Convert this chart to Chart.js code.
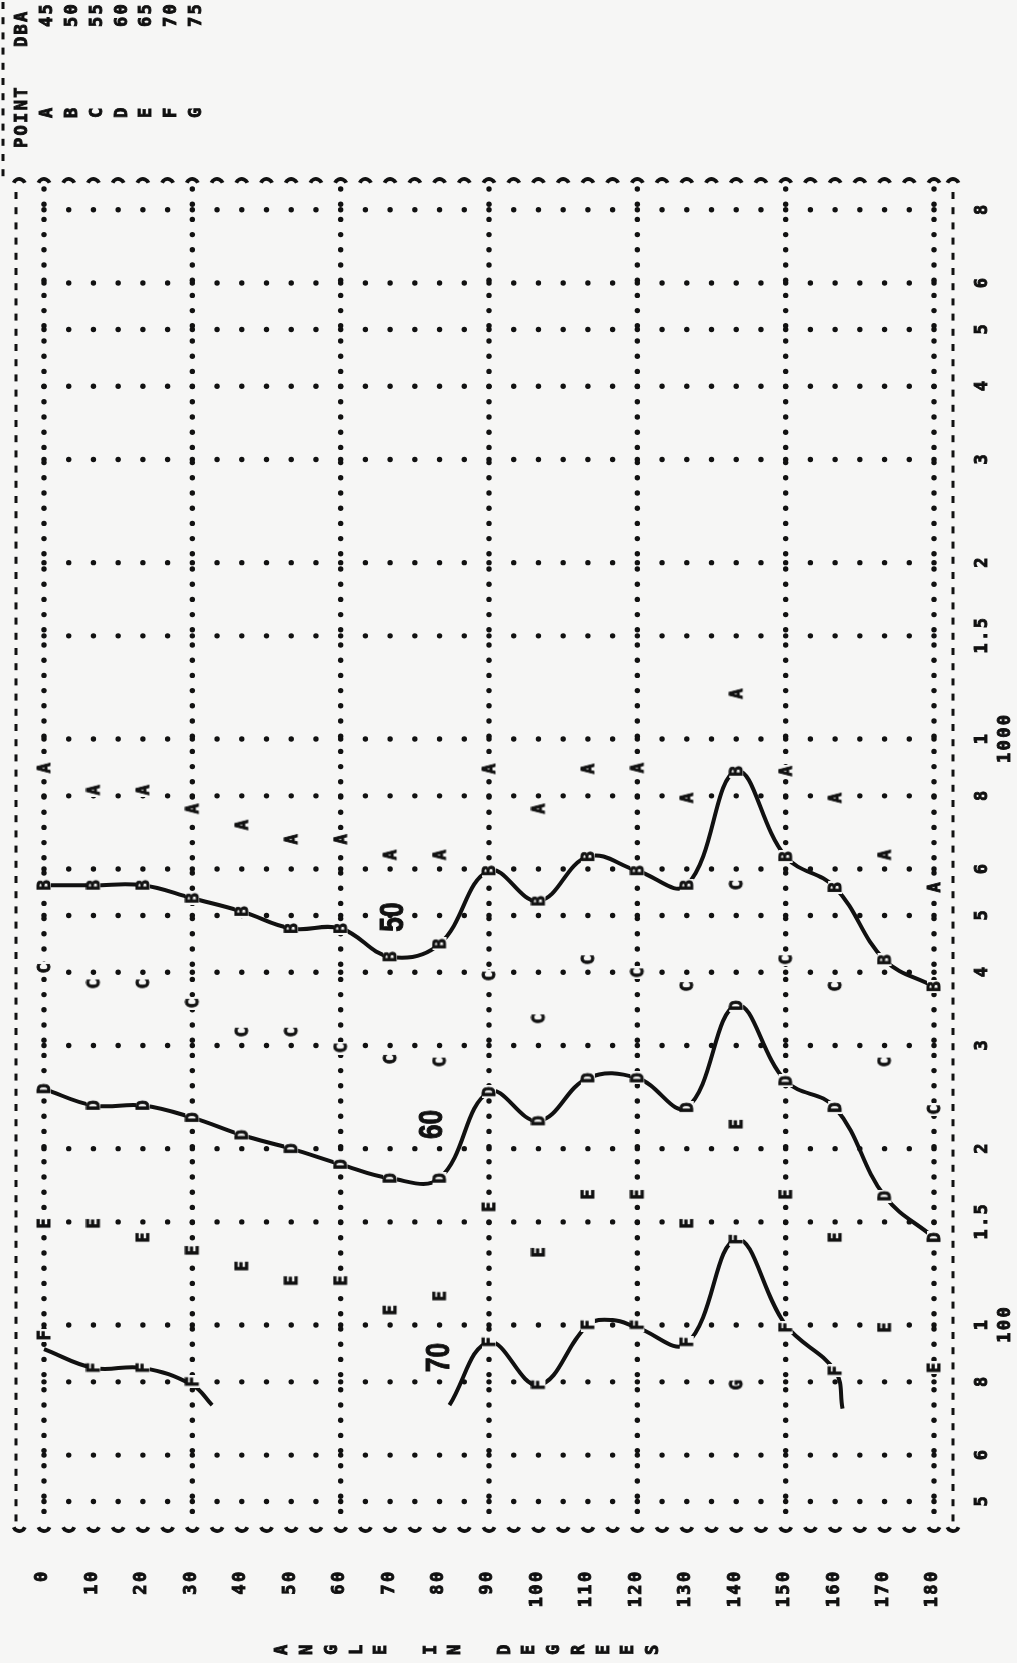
<!DOCTYPE html>
<html>
<head>
<meta charset="utf-8">
<title>Angle in degrees</title>
<script src="https://cdn.jsdelivr.net/npm/chart.js@4.4.1/dist/chart.umd.min.js"></script>
<style>
  html, body { margin: 0; padding: 0; background: #f6f6f5; }
  #wrap { width: 1017px; height: 1663px; }
</style>
</head>
<body>
<div id="wrap"><canvas id="chart" width="1017" height="1663"></canvas></div>
<script>
const PAPER = '#f6f6f5';
const INK = '#111111';

// angle columns (x) and the distance read for each point letter (y, log)
const angles = [0, 10, 20, 30, 40, 50, 60, 70, 80, 90, 100, 110, 120, 130, 140, 150, 160, 170, 180];
const pointA = [892, 818, 818, 760, 713, 674, 674, 634, 634, 889, 760, 889, 892, 793, 1194, 881, 793, 634, 558];
const pointB = [563, 563, 563, 535, 508, 475, 475, 425, 447, 596, 529, 630, 596, 563, 881, 630, 558, 420, 378];
const pointC = [406, 382, 382, 354, 316, 316, 297, 284, 281, 394, 333, 420, 399, 378, 563, 420, 378, 281, 233];
const pointD = [253, 237, 237, 226, 211, 200, 188, 178, 178, 250, 223, 264, 264, 235, 351, 261, 235, 166, 141];
const pointE = [149, 149, 141, 134, 126, 119, 119, 106, 112, 159, 133, 167, 167, 149, 220, 167, 141, 99, 84.5];
const pointF = [96, 84.5, 84.5, 80, null, null, null, null, null, 93.5, 79, 100, 100, 93.5, 140, 99, 83.5, null, null];
const pointG = [null, null, null, null, null, null, null, null, null, null, null, null, null, null, 79, null, null, null, null];

// hand drawn contours
const contour50Angles = [0, 10, 20, 30, 40, 50, 60, 70, 80, 90, 100, 110, 120, 130, 140, 150, 160, 170, 180];
const contour50 = [563, 563, 563, 535, 508, 475, 475, 425, 447, 596, 529, 630, 596, 563, 881, 630, 558, 420, 378];
const contour60Angles = [0, 10, 20, 30, 40, 50, 60, 70, 80, 90, 100, 110, 120, 130, 140, 150, 160, 170, 180];
const contour60 = [253, 237, 237, 226, 211, 200, 188, 178, 178, 250, 223, 264, 264, 235, 351, 261, 235, 166, 141];
const contour70aAngles = [0, 10, 20, 30, 34];
const contour70a = [91, 84.5, 84.5, 79, 73];
const contour70bAngles = [82, 90, 100, 110, 115, 120, 130, 140, 150, 160, 161.5];
const contour70b = [73, 93.5, 79, 100, 102, 99, 93, 140, 100, 83.5, 72];

const contourLabels = ['50', '60', '70'];
const contourLabelAngles = [70.4, 78.3, 79.7];
const contourLabelValues = [497, 220, 88];

// axes
const distTicks = [50, 60, 80, 100, 150, 200, 300, 400, 500, 600, 800, 1000, 1500, 2000, 3000, 4000, 5000, 6000, 8000];
const distLabels = ['5', '6', '8', ['1', '100'], '1.5', '2', '3', '4', '5', '6', '8', ['1', '1000'], '1.5', '2', '3', '4', '5', '6', '8'];
const angleLabels = ['0', '10', '20', '30', '40', '50', '60', '70', '80', '90', '100', '110', '120', '130', '140', '150', '160', '170', '180'];
const majorAngles = [0, 30, 60, 90, 120, 150, 180];
const axisTitle = 'ANGLE IN DEGREES';

// legend table
const legendPoints = ['A', 'B', 'C', 'D', 'E', 'F', 'G'];
const legendDba = ['45', '50', '55', '60', '65', '70', '75'];

const MONO = 'bold 17px "DejaVu Sans Mono", "Liberation Mono", monospace';
const PITCH = 12.6;

// heavy printer glyph: fill plus a thin stroke
function inkText(g, s, x, y) {
    g.fillText(s, x, y);
    g.strokeText(s, x, y);
}

// printer letter as a point stamp (upright, turned by pointRotation)
function letterStamp(ch) {
    const c = document.createElement('canvas');
    c.width = 13;
    c.height = 16;
    const g = c.getContext('2d');
    g.fillStyle = PAPER;
    g.fillRect(0, 1, 13, 14);
    g.fillStyle = INK;
    g.strokeStyle = INK;
    g.lineWidth = 0.9;
    g.font = MONO;
    g.textAlign = 'center';
    g.textBaseline = 'alphabetic';
    inkText(g, ch, 6.5, 14);
    return c;
}

function rotChar(ctx, ch, x, y) {
    ctx.save();
    ctx.translate(x, y);
    ctx.rotate(-Math.PI / 2);
    ctx.textAlign = 'center';
    ctx.textBaseline = 'middle';
    inkText(ctx, ch, 0, 1);
    ctx.restore();
}

// text read bottom to top, first char centred at yFirst
function rotText(ctx, str, x, yFirst) {
    [...str].forEach((ch, i) => rotChar(ctx, ch, x, yFirst - i * PITCH));
}

function dot(ctx, x, y, r) {
    ctx.beginPath();
    ctx.arc(x, y, r, 0, Math.PI * 2);
    ctx.fill();
}

const paperPlugin = {
    id: 'paper',
    beforeDraw(chart) {
        const ctx = chart.ctx;
        ctx.save();
        ctx.fillStyle = PAPER;
        ctx.fillRect(0, 0, chart.width, chart.height);
        ctx.restore();
    }
};

const printGridPlugin = {
    id: 'printGrid',
    beforeDatasetsDraw(chart) {
        const ctx = chart.ctx;
        const xs = chart.scales.x;
        const ys = chart.scales.y;
        const area = chart.chartArea;
        ctx.save();
        ctx.fillStyle = INK;
        ctx.strokeStyle = INK;

        // dotted rows at every distance tick, one dot per 5 degrees
        distTicks.forEach(v => {
            const y = ys.getPixelForValue(v);
            for (let a = 0; a <= 180; a += 5) dot(ctx, xs.getPixelForValue(a), y, 2.7);
        });

        // dense dotted columns every 30 degrees
        majorAngles.forEach(a => {
            const x = xs.getPixelForValue(a);
            for (let y = area.top + 9; y < area.bottom - 4; y += 15.2) dot(ctx, x, y, 2.7);
        });

        // frame: dashed sides, bracket rows top and bottom
        ctx.lineWidth = 3;
        [area.left, area.right].forEach(x => {
            for (let y = area.top + 12; y < area.bottom - 6; y += 15.2) {
                ctx.beginPath();
                ctx.moveTo(x, y);
                ctx.lineTo(x, y + 7);
                ctx.stroke();
            }
        });
        for (let y = 2; y < area.top - 8; y += 15.2) {
            ctx.beginPath();
            ctx.moveTo(3, y);
            ctx.lineTo(3, y + 7);
            ctx.stroke();
        }
        ctx.lineWidth = 3.8;
        for (let a = -5; a <= 185; a += 5) {
            const x = Math.min(xs.getPixelForValue(a), area.right);
            ctx.beginPath();
            ctx.arc(x, area.top + 5, 6, Math.PI * 1.12, Math.PI * 1.88);
            ctx.stroke();
            ctx.beginPath();
            ctx.arc(x, area.bottom - 5, 6, Math.PI * 0.12, Math.PI * 0.88);
            ctx.stroke();
        }
        ctx.restore();
    }
};

const printTextPlugin = {
    id: 'printText',
    afterDraw(chart) {
        const ctx = chart.ctx;
        const xs = chart.scales.x;
        const ys = chart.scales.y;
        ctx.save();
        ctx.fillStyle = INK;
        ctx.strokeStyle = INK;
        ctx.lineWidth = 0.9;
        ctx.font = MONO;

        // angle tick labels, tops aligned under the frame
        angles.forEach((a, i) => {
            const s = angleLabels[i];
            rotText(ctx, s, xs.getPixelForValue(a) - 2, 1577 + (s.length - 1) * PITCH);
        });

        // distance tick labels on the right
        distTicks.forEach((v, i) => {
            const y = ys.getPixelForValue(v);
            const lines = [].concat(distLabels[i]);
            lines.forEach((s, k) => rotText(ctx, s, 982 + k * 23, y + (s.length - 1) * PITCH / 2));
        });

        // axis title, one upright column of characters
        [...axisTitle].forEach((ch, i) => {
            if (ch !== ' ') rotChar(ctx, ch, 282 + i * 24.7, 1650);
        });

        // legend table
        rotText(ctx, 'POINT', 22, 143);
        rotText(ctx, 'DBA', 22, 42);
        legendPoints.forEach((ch, k) => {
            const x = 47 + k * 24.7;
            rotChar(ctx, ch, x, 113);
            rotText(ctx, legendDba[k], x, 22);
        });

        // contour values
        ctx.font = 'bold 33px "Liberation Sans", Arial, sans-serif';
        ctx.lineWidth = 1;
        contourLabels.forEach((s, i) => {
            ctx.save();
            ctx.translate(xs.getPixelForValue(contourLabelAngles[i]), ys.getPixelForValue(contourLabelValues[i]));
            ctx.rotate(-Math.PI / 2);
            ctx.scale(0.8, 1);
            ctx.textAlign = 'center';
            ctx.textBaseline = 'middle';
            inkText(ctx, s, 0, 2);
            ctx.restore();
        });
        ctx.restore();
    }
};

const series = [pointA, pointB, pointC, pointD, pointE, pointF, pointG];
const letterSets = legendPoints.map((ch, k) => ({
    label: ch,
    data: angles.map((a, i) => ({ x: a, y: series[k][i] })).filter(p => p.y !== null),
    pointStyle: letterStamp(ch),
    pointRotation: -90,
    pointRadius: 7,
    pointHoverRadius: 7,
    order: 1
}));

function contour(label, xsList, ysList) {
    return {
        type: 'line',
        label: label,
        data: xsList.map((a, i) => ({ x: a, y: ysList[i] })),
        borderColor: INK,
        borderWidth: 4,
        pointRadius: 0,
        tension: 0.4,
        fill: false,
        order: 2
    };
}

const ctx = document.getElementById('chart').getContext('2d');
new Chart(ctx, {
    type: 'scatter',
    data: {
        datasets: [
            contour('50', contour50Angles, contour50),
            contour('60', contour60Angles, contour60),
            contour('70', contour70aAngles, contour70a),
            contour('70', contour70bAngles, contour70b),
            ...letterSets
        ]
    },
    options: {
        responsive: false,
        animation: false,
        devicePixelRatio: 1,
        layout: { padding: { left: 16, top: 180, right: 64, bottom: 133 } },
        plugins: {
            legend: { display: false },
            tooltip: { enabled: false }
        },
        scales: {
            x: { type: 'linear', display: false, min: -5.663, max: 183.84 },
            y: { type: 'logarithmic', display: false, min: 44.7, max: 8994 }
        }
    },
    plugins: [paperPlugin, printGridPlugin, printTextPlugin]
});
</script>
</body>
</html>
